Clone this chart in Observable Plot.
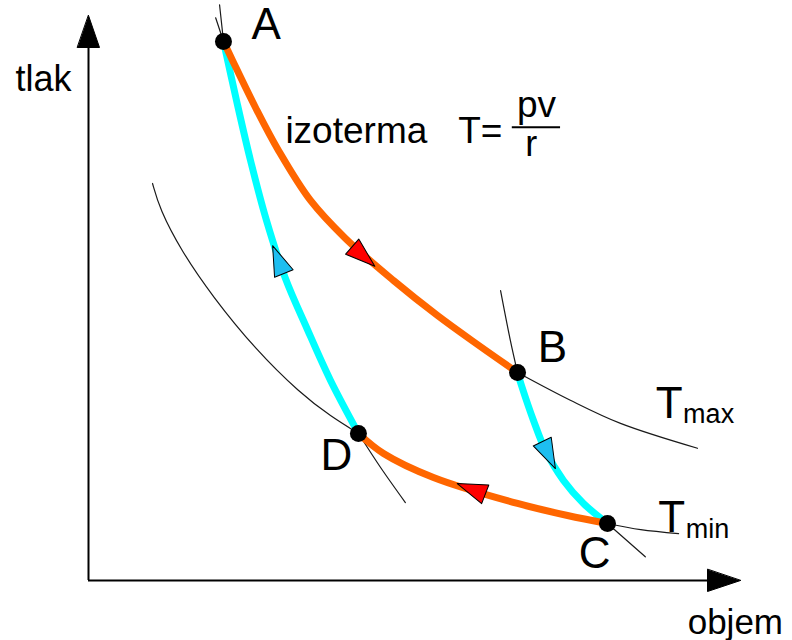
<!DOCTYPE html>
<html>
<head>
<meta charset="utf-8">
<script src="https://cdn.jsdelivr.net/npm/d3@7"></script>
<script src="https://cdn.jsdelivr.net/npm/@observablehq/plot@0.6"></script>
<style>
  html, body { margin: 0; padding: 0; background: #fff; }
  svg { display: block; }
</style>
</head>
<body>
<div id="chart"></div>
<script>
// ---- data (volume v, pressure p in arbitrary units) ----
const pointNames = ["A", "B", "C", "D"];
const pointV = [20.7, 65.8, 79.6, 41.4];
const pointP = [95.4, 36.8, 10.1, 26.0];

// isotherm T_max  A -> B (thick)
const isoAB = [[20.71, 95.40], [22.09, 92.04], [25.61, 83.72], [29.14, 76.11], [34.05, 67.26], [39.42, 60.53], [46.78, 53.10], [53.53, 46.90], [59.66, 41.77], [65.80, 36.81]];
// adiabat  B -> C (thick)
const adiBC = [[65.80, 36.81], [66.41, 34.51], [68.25, 28.32], [70.09, 23.01], [72.85, 17.70], [75.92, 13.63], [79.60, 10.09]];
// isotherm T_min  C -> D (thick)
const isoCD = [[79.60, 10.09], [73.47, 11.50], [65.80, 13.63], [52.91, 18.23], [45.25, 22.48], [41.41, 26.02]];
// adiabat  D -> A (thick)
const adiDA = [[41.41, 26.02], [37.12, 35.40], [33.44, 44.78], [30.21, 53.45], [27.30, 63.72], [24.85, 74.34], [22.70, 84.96], [20.71, 95.40]];

// thin continuations of the four curves
const tmaxLeft = [[19.5, 99.6], [20.71, 95.40]];
const tmaxRight = [[65.80, 36.81], [73.9, 31.9], [81.6, 27.8], [93.4, 23.4]];
const tminLeft = [[9.82, 70.27], [10.9, 65.8], [14.2, 58.4], [19.0, 50.3], [25.6, 40.9], [32.5, 33.1], [37.2, 29.0], [41.41, 26.02]];
const tminRight = [[79.60, 10.09], [84.7, 9.0], [90.5, 8.3]];
const adi1Top = [[20.1, 101.9], [20.71, 95.40]];
const adi1Bottom = [[41.41, 26.02], [44.8, 20.0], [48.6, 13.8]];
const adi2Top = [[63.2, 51.3], [64.7, 42.5], [65.80, 36.81]];
const adi2Bottom = [[79.60, 10.09], [85.4, 4.2]];

// direction arrows on the cycle
const arrowV = [42.18, 70.6, 58.7, 29.1];
const arrowP = [57.35, 22.2, 16.2, 56.8];
const arrowAngle = [131, 154, 291, 338];
const arrowKind = ["isotherm", "adiabat", "isotherm", "adiabat"];

// text
const axisYLabel = "tlak";
const axisXLabel = "objem";
const isoText = "izoterma";
const formulaLeft = "T=";
const formulaNum = "pv";
const formulaDen = "r";

// ---- build ----
const toRows = arr => arr.map(([v, p]) => ({v, p}));
const points = pointNames.map((n, i) => ({name: n, v: pointV[i], p: pointP[i]}));
const arrows = arrowV.map((v, i) => ({v, p: arrowP[i], angle: arrowAngle[i], kind: arrowKind[i]}));
const triangle = {
  draw(context, l, r) {
    context.moveTo(0, -l);
    context.lineTo(r, 0);
    context.lineTo(-r, 0);
    context.closePath();
  }
};
const thinLines = [tmaxLeft, tmaxRight, tminRight, adi1Top, adi1Bottom, adi2Top, adi2Bottom];
const font = "Liberation Sans, Arial, Helvetica, sans-serif";
const ORANGE = "#ff6600", CYAN = "#00ffff", ARROW_BLUE = "#1ebef0", ARROW_RED = "#ff0000";
const labelX = {A: 25.0, B: 68.9, C: 75.2, D: 35.6};
const labelY = {A: 95.9, B: 38.6, C: 2.3, D: 19.5};

const chart = Plot.plot({
  width: 792,
  height: 640,
  margin: 0,
  style: {fontFamily: font, background: "white", overflow: "visible"},
  x: {domain: [0, 100], range: [88, 740], axis: null},
  y: {domain: [0, 100], range: [580, 15], axis: null},
  marks: [
    // axes
    Plot.ruleY([0], {x1: 0, x2: 96, stroke: "black", strokeWidth: 2}),
    Plot.ruleX([0], {y1: 0, y2: 96, stroke: "black", strokeWidth: 2}),
    Plot.vector([{v: 100, p: 0}], {x: "v", y: "p", rotate: 90, length: 33, r: 11, anchor: "end", shape: triangle, fill: "black", stroke: "black", strokeWidth: 1}),
    Plot.vector([{v: 0, p: 100}], {x: "v", y: "p", rotate: 0, length: 32, r: 11, anchor: "end", shape: triangle, fill: "black", stroke: "black", strokeWidth: 1}),
    // thin continuations
    ...thinLines.map(a => Plot.line(toRows(a), {x: "v", y: "p", stroke: "#1a1a1a", strokeWidth: 1.2, curve: "catmull-rom"})),
    Plot.line(toRows(tminLeft), {x: "v", y: "p", stroke: "#1a1a1a", strokeWidth: 1.2, curve: "basis"}),
    // thick cycle
    Plot.line(toRows(adiDA), {x: "v", y: "p", stroke: CYAN, strokeWidth: 7, curve: "catmull-rom"}),
    Plot.line(toRows(adiBC), {x: "v", y: "p", stroke: CYAN, strokeWidth: 7, curve: "catmull-rom"}),
    Plot.line(toRows(isoAB), {x: "v", y: "p", stroke: ORANGE, strokeWidth: 7, curve: "catmull-rom"}),
    Plot.line(toRows(isoCD), {x: "v", y: "p", stroke: ORANGE, strokeWidth: 7, curve: "catmull-rom"}),
    // direction arrows
    Plot.vector(arrows, {x: "v", y: "p", rotate: "angle", length: 30, r: 10, anchor: "middle", shape: triangle,
      fill: d => d.kind === "isotherm" ? ARROW_RED : ARROW_BLUE, stroke: "black", strokeWidth: 1}),
    // state points
    Plot.dot(points, {x: "v", y: "p", r: 8.5, fill: "black", stroke: "none"}),
    // point labels
    Plot.text(points, {x: d => labelX[d.name], y: d => labelY[d.name],
      text: "name", fontSize: 44, textAnchor: "start", lineAnchor: "bottom", fill: "black"}),
    // axis labels
    Plot.text([axisYLabel], {x: -2.6, y: 86.7, text: d => d, fontSize: 36, textAnchor: "end", lineAnchor: "bottom"}),
    Plot.text([axisXLabel], {x: 91.9, y: -9.4, text: d => d, fontSize: 35, textAnchor: "start", lineAnchor: "bottom"}),
    // Tmax / Tmin
    Plot.text(["T"], {x: 87.0, y: 28.8, text: d => d, fontSize: 44, textAnchor: "start", lineAnchor: "bottom"}),
    Plot.text(["max"], {x: 91.2, y: 27.8, text: d => d, fontSize: 27, textAnchor: "start", lineAnchor: "bottom"}),
    Plot.text(["T"], {x: 87.4, y: 8.5, text: d => d, fontSize: 44, textAnchor: "start", lineAnchor: "bottom"}),
    Plot.text(["min"], {x: 91.6, y: 7.6, text: d => d, fontSize: 27, textAnchor: "start", lineAnchor: "bottom"}),
    // isotherm annotation
    Plot.text([isoText], {x: 30.2, y: 77.5, text: d => d, fontSize: 37, textAnchor: "start", lineAnchor: "bottom"}),
    Plot.text([formulaLeft], {x: 56.7, y: 77.5, text: d => d, fontSize: 37, textAnchor: "start", lineAnchor: "bottom"}),
    Plot.text([formulaNum], {x: 68.7, y: 82.0, text: d => d, fontSize: 37, textAnchor: "middle", lineAnchor: "bottom"}),
    Plot.ruleY([80.2], {x1: 65.0, x2: 72.4, stroke: "black", strokeWidth: 2}),
    Plot.text([formulaDen], {x: 67.9, y: 75.2, text: d => d, fontSize: 36, textAnchor: "middle", lineAnchor: "bottom"})
  ]
});
document.getElementById("chart").appendChild(chart);
</script>
</body>
</html>
